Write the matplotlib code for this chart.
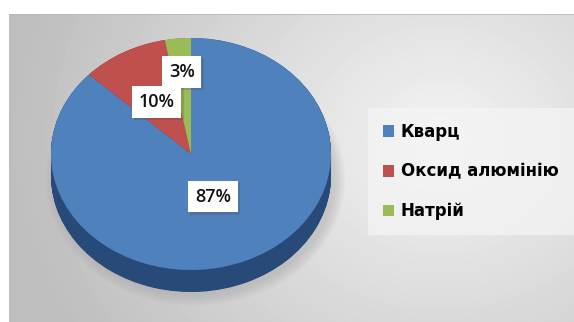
import matplotlib.pyplot as plt
import matplotlib.patheffects as pe
from matplotlib.patches import Ellipse
import numpy as np

# composition data
labels = ['Кварц', 'Оксид алюмінію', 'Натрій']
shares = [87, 10, 3]

colors = ['#4f81bd', '#c0504d', '#9bbb59']
side_colors = ['#284a78', '#8c302d', '#6d8a3a']

W, H = 574, 322
fig = plt.figure(figsize=(W / 100, H / 100), dpi=100)

# grey panel with a soft light spot behind the legend
bg = fig.add_axes([9 / W, 0, 1 - 9 / W, (H - 14) / H])
yy, xx = np.mgrid[14:H, 9:W]
d = np.hypot(xx - 440, (yy - 140) * 1.15)
shade = 0.955 - 0.21 * np.clip(d / 430, 0, 1)
bg.imshow(shade, cmap='gray', vmin=0, vmax=1, aspect='auto', interpolation='bilinear')
bg.axhline(-0.5, color='#b8b8b8', lw=1.2)
bg.axis('off')

# pie axes: one data unit = pie radius, stretched to an ellipse
cx, cy, rx, ry = 191, 154, 140, 116
depth = 22 / ry
ax = fig.add_axes([0, 0, 1, 1])
ax.set_facecolor('none')

# soft shadow under the disc
for k in range(8):
    ax.add_patch(Ellipse((0.03, -depth - 0.03), 2.0 + 0.02 * k, 2.0 + 0.025 * k,
                         fc='#9a9a9a', ec='none', alpha=0.05, zorder=0))

# side of the disc: stacked copies shifted down
for off in np.linspace(depth, 0.0, 40):
    ax.pie(shares, colors=side_colors, startangle=90, counterclock=False,
           center=(0, -off), wedgeprops=dict(linewidth=0))

wedges, _ = ax.pie(shares, colors=colors, startangle=90, counterclock=False,
                   wedgeprops=dict(linewidth=0))

ax.set_aspect('auto')
ax.set_xlim(-cx / rx, (W - cx) / rx)
ax.set_ylim((cy - H) / ry, cy / ry)
ax.axis('off')

# value labels in white boxes
dist = [0.40, 0.51, 0.71]
zs = [5, 7, 6]
for w, v, r, z in zip(wedges, shares, dist, zs):
    mid = np.deg2rad((w.theta1 + w.theta2) / 2)
    t = ax.text(r * np.cos(mid), r * np.sin(mid), f'{v}%', ha='center', va='center',
                fontsize=13, family='Open Sans', weight='semibold', color='#111111',
                bbox=dict(boxstyle='square,pad=0.38', fc='white', ec='none'), zorder=z)
    t.get_bbox_patch().set_path_effects([pe.SimplePatchShadow(offset=(1.5, -1.5), alpha=0.25),
                                         pe.Normal()])

leg = ax.legend(wedges, labels, loc='upper left', bbox_to_anchor=(368 / W, 1 - 108 / H),
                bbox_transform=fig.transFigure, frameon=True, fancybox=False,
                prop=dict(family='DejaVu Sans', weight='bold', size=12),
                handlelength=0.68, handleheight=0.68, handletextpad=0.4,
                labelspacing=1.3, borderpad=0.9, borderaxespad=0)
leg.get_frame().set_facecolor('#f4f4f4')
leg.get_frame().set_edgecolor('none')
leg.get_frame().set_alpha(0.75)

fig.savefig('out.png', dpi=100)
